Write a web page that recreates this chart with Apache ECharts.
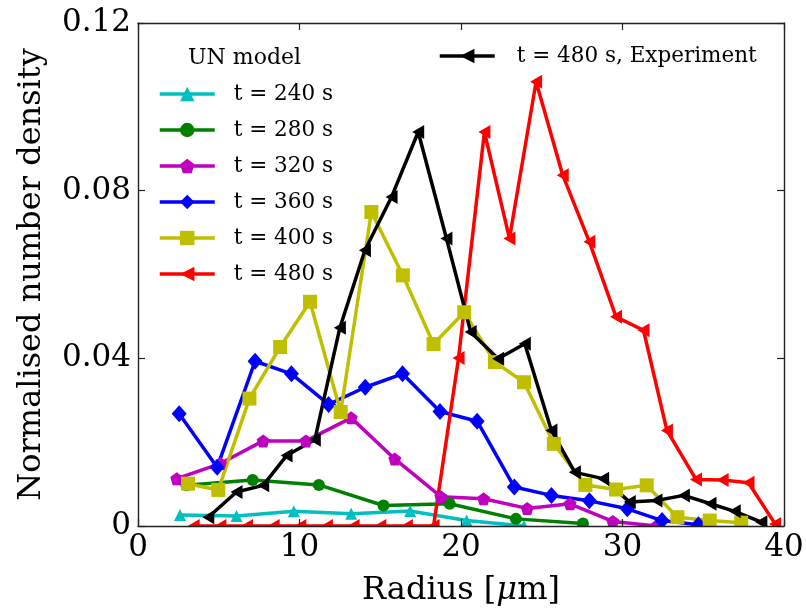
<!DOCTYPE html>
<html>
<head>
<meta charset="utf-8">
<script src="https://cdn.jsdelivr.net/npm/echarts@6/dist/echarts.min.js"></script>
<style>
  html, body { margin: 0; padding: 0; background: #fff; }
  #chart { width: 806px; height: 610px; }
</style>
</head>
<body>
<div id="chart"></div>
<script>
// Radius bins [µm] and normalised number densities for each model time step
const radius240 = [2.6, 6.1, 9.65, 13.2, 16.85, 20.35, 23.9];
const density240 = [0.0026, 0.0024, 0.0035, 0.0029, 0.0036, 0.0013, 0];

const radius280 = [3.0, 7.1, 11.2, 15.2, 19.3, 23.4, 27.55];
const density280 = [0.0097, 0.0110, 0.0098, 0.0049, 0.0053, 0.0017, 0.0006];

const radius320 = [2.4, 5.1, 7.75, 10.4, 13.2, 15.9, 18.75, 21.4, 24.1, 26.75, 29.4, 32.1];
const density320 = [0.0113, 0.0149, 0.0203, 0.0203, 0.0258, 0.0160, 0.0070, 0.0065, 0.0042, 0.0053, 0.0011, 0];

const radius360 = [2.55, 4.9, 7.25, 9.5, 11.8, 14.07, 16.38, 18.7, 21.0, 23.3, 25.6, 27.95, 30.3, 32.45, 34.7];
const density360 = [0.0268, 0.0140, 0.0393, 0.0363, 0.0290, 0.0331, 0.0363, 0.0273, 0.0250, 0.0093, 0.0073, 0.0060, 0.0041, 0.0013, 0.0003];

const radius400 = [3.1, 4.97, 6.9, 8.8, 10.65, 12.55, 14.45, 16.4, 18.3, 20.2, 22.1, 23.9, 25.75, 27.7, 29.6, 31.5, 33.4, 35.4, 37.35];
const density400 = [0.0101, 0.0086, 0.0304, 0.0427, 0.0535, 0.0272, 0.0749, 0.0598, 0.0434, 0.0510, 0.0391, 0.0343, 0.0196, 0.0098, 0.0087, 0.0097, 0.0021, 0.0013, 0.0008];

const radius480 = [3.45, 5.1, 6.75, 8.4, 10.05, 11.7, 13.35, 15.0, 16.65, 18.3, 19.85, 21.45, 23.0, 24.65, 26.3, 27.95, 29.6, 31.3, 32.75, 34.55, 36.2, 37.8, 39.45];
const density480 = [0, 0, 0, 0, 0, 0, 0, 0, 0, 0, 0.0401, 0.0940, 0.0686, 0.1060, 0.0837, 0.0678, 0.0499, 0.0467, 0.0228, 0.0111, 0.0110, 0.0103, 0.0005];

// Measured distribution at t = 480 s
const radiusExp = [4.35, 6.1, 7.75, 9.2, 10.95, 12.5, 14.05, 15.7, 17.35, 19.1, 20.6, 22.3, 23.95, 25.6, 27.05, 28.8, 30.45, 32.1, 33.8, 35.45, 36.95, 38.6];
const densityExp = [0.0021, 0.0081, 0.0097, 0.0168, 0.0206, 0.0473, 0.0658, 0.0785, 0.0940, 0.0686, 0.0463, 0.0399, 0.0435, 0.0228, 0.0128, 0.0113, 0.0057, 0.0061, 0.0073, 0.0053, 0.0035, 0.0009];

const modelNames = ['t = 240 s', 't = 280 s', 't = 320 s', 't = 360 s', 't = 400 s', 't = 480 s'];
const expName = 't = 480 s, Experiment';
const xTicks = [0, 10, 20, 30, 40];
const yTicks = [0, 0.04, 0.08, 0.12];

const FONT = '"DejaVu Serif", serif';
const pentagon = 'path://M0,-1 L0.951,-0.309 L0.588,0.809 L-0.588,0.809 L-0.951,-0.309 Z';

function pairs(xs, ys) { return xs.map((x, i) => [x, ys[i]]); }

function lineSeries(name, xs, ys, color, symbol, size, rotate) {
  return {
    name: name,
    type: 'line',
    data: pairs(xs, ys),
    symbol: symbol,
    symbolSize: size,
    symbolRotate: rotate || 0,
    showAllSymbol: true,
    clip: true,
    lineStyle: { color: color, width: 3.5 },
    itemStyle: { color: color, borderWidth: 0 },
    emphasis: { disabled: true },
    z: 2
  };
}

const axisCommon = {
  type: 'value',
  axisLine: { show: true, onZero: false, lineStyle: { color: '#222', width: 1.4 } },
  axisTick: { show: true, inside: true, length: 7, lineStyle: { color: '#222', width: 1.2 } },
  splitLine: { show: false },
  z: 10
};

const legendCommon = {
  orient: 'vertical',
  padding: 0,
  itemWidth: 55,
  itemHeight: 18,
  selectedMode: false,
  lineStyle: { width: 3.5 },
  itemStyle: { borderWidth: 0 }
};

const chart = echarts.init(document.getElementById('chart'), null, { renderer: 'canvas' });

chart.setOption({
  animation: false,
  backgroundColor: '#fff',
  grid: { left: 138, right: 22, top: 23, bottom: 84, containLabel: false, outerBoundsMode: 'none' },
  xAxis: [
    Object.assign({}, axisCommon, {
      position: 'bottom',
      min: xTicks[0], max: xTicks[xTicks.length - 1], interval: 10,
      axisLabel: { show: true, margin: 6, fontFamily: FONT, fontSize: 31, color: '#000' },
      name: 'Radius [{i|μ}m]',
      nameLocation: 'middle',
      nameGap: 49,
      nameTextStyle: {
        fontFamily: FONT, fontSize: 32, color: '#000',
        rich: { i: { fontFamily: FONT, fontSize: 32, fontStyle: 'italic', color: '#000' } }
      }
    }),
    Object.assign({}, axisCommon, {
      position: 'top',
      min: xTicks[0], max: xTicks[xTicks.length - 1], interval: 10,
      axisLabel: { show: false }
    })
  ],
  yAxis: [
    Object.assign({}, axisCommon, {
      position: 'left',
      min: yTicks[0], max: yTicks[yTicks.length - 1], interval: 0.04,
      axisLabel: {
        show: true, margin: 7, fontFamily: FONT, fontSize: 31, color: '#000',
        formatter: v => (v === 0 ? '0' : v.toFixed(2))
      },
      name: 'Normalised number density',
      nameLocation: 'middle',
      nameGap: 90,
      nameTextStyle: { fontFamily: FONT, fontSize: 32, color: '#000' }
    }),
    Object.assign({}, axisCommon, {
      position: 'right',
      min: yTicks[0], max: yTicks[yTicks.length - 1], interval: 0.04,
      axisLabel: { show: false }
    })
  ],
  legend: [
    Object.assign({}, legendCommon, {
      data: modelNames,
      left: 158,
      top: 83,
      itemGap: 14,
      textStyle: { fontFamily: FONT, fontSize: 21.5, lineHeight: 22, color: '#000', padding: [0, 0, 0, 14] }
    }),
    Object.assign({}, legendCommon, {
      data: [expName],
      left: 438,
      top: 45,
      textStyle: { fontFamily: FONT, fontSize: 21.5, lineHeight: 22, color: '#000', padding: [0, 0, 0, 17] }
    })
  ],
  graphic: [
    // masks the part of the markers that falls below the x axis
    { type: 'rect', shape: { x: 100, y: 526.5, width: 700, height: 40 }, style: { fill: '#fff' }, z: 5, silent: true },
    { type: 'text', left: 188, top: 47, style: { text: 'UN model', font: '22px ' + FONT, fill: '#000' }, z: 5 }
  ],
  series: [
    lineSeries(modelNames[0], radius240, density240, '#00bfbf', 'triangle', 12),
    lineSeries(modelNames[1], radius280, density280, '#008000', 'circle', 12),
    lineSeries(modelNames[2], radius320, density320, '#bf00bf', pentagon, 13),
    lineSeries(modelNames[3], radius360, density360, '#0000ff', 'diamond', [15, 17]),
    lineSeries(modelNames[4], radius400, density400, '#bfbf00', 'rect', 14),
    lineSeries(modelNames[5], radius480, density480, '#ff0000', 'triangle', [14, 12], 90),
    lineSeries(expName, radiusExp, densityExp, '#000000', 'triangle', [14, 12], 90)
  ]
});
</script>
</body>
</html>
